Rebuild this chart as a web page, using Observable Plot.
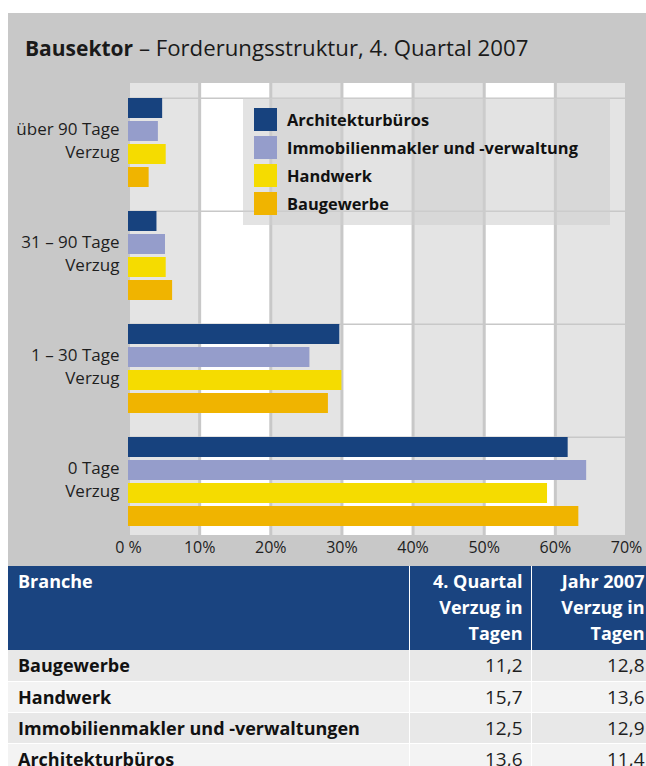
<!DOCTYPE html>
<html>
<head>
<meta charset="utf-8">
<script src="https://cdn.jsdelivr.net/npm/d3@7"></script>
<script src="https://cdn.jsdelivr.net/npm/@observablehq/plot@0.6"></script>
<style>
  html, body { margin: 0; padding: 0; background: #fff; overflow: hidden; width: 646px; height: 766px; }
  body { font-family: "Open Sans", "Noto Sans", sans-serif; color: #1e1e1e; }
  #panel { position: absolute; left: 8px; top: 13px; width: 650px; height: 760px; background: #c8c8c8; }
  #title { position: absolute; left: 17px; top: 19px; font-size: 22.2px; white-space: nowrap; color: #1a1a1a; }
  #title b { font-weight: 700; font-size: 21px; }
  #chart { position: absolute; left: 0; top: 55px; }
  #legend { position: absolute; left: 235px; top: 85px; width: 367px; height: 127px; background: rgba(208,208,208,0.59); }
  .sw { position: absolute; left: 11px; width: 23px; height: 23px; }
  .lt { position: absolute; left: 44px; font-weight: 700; font-size: 16.4px; line-height: 23px; white-space: nowrap; color: #111; }
  #tbl { position: absolute; left: 0; top: 553px; border-collapse: collapse; font-size: 18px; }
  #tbl th { background: #1a4480; color: #fff; font-weight: 700; vertical-align: top; line-height: 26px; padding: 2px 8px 3px 10px; height: 84px; box-sizing: border-box; border-right: 1px solid #fff; }
  #tbl td { height: 31px; box-sizing: border-box; padding: 0 8px 0 10px; border-bottom: 1px solid #fff; border-right: 1px solid #fff; line-height: 30px; }
  #tbl tr.odd td { background: #e8e8e8; }
  #tbl tr.even td { background: #f3f3f3; }
  #tbl td.name { font-weight: 700; color: #111; }
  #tbl td.num { text-align: right; font-size: 19px; }
</style>
</head>
<body>
<div id="panel">
  <div id="title"><b>Bausektor</b> – Forderungsstruktur, 4. Quartal 2007</div>
  <div id="chart"></div>
  <div id="legend"></div>
  <table id="tbl"></table>
</div>
<script>
// ---- data ----
const groups = ["über 90 Tage\nVerzug", "31 – 90 Tage\nVerzug", "1 – 30 Tage\nVerzug", "0 Tage\nVerzug"];
const series = ["Architekturbüros", "Immobilienmakler und -verwaltung", "Handwerk", "Baugewerbe"];
const seriesColors = ["#17427e", "#959dcb", "#f5dc00", "#f0b400"];
const architekturbueros = [4.8, 4.0, 29.7, 61.8];
const immobilien = [4.2, 5.2, 25.5, 64.4];
const handwerk = [5.3, 5.3, 30.0, 58.9];
const baugewerbe = [2.9, 6.2, 28.1, 63.3];
const xTicks = [0, 10, 20, 30, 40, 50, 60, 70];
const xTickLabels = ["0 %", "10%", "20%", "30%", "40%", "50%", "60%", "70%"];

const tableHeader = ["Branche", "4. Quartal\nVerzug in\nTagen", "Jahr 2007\nVerzug in\nTagen"];
const tableBranchen = ["Baugewerbe", "Handwerk", "Immobilienmakler und -verwaltungen", "Architekturbüros"];
const tableQuartal = ["11,2", "15,7", "12,5", "13,6"];
const tableJahr = ["12,8", "13,6", "12,9", "11,4"];

// ---- build tidy data ----
const seriesValues = [architekturbueros, immobilien, handwerk, baugewerbe];
const bars = [];
groups.forEach((g, gi) => series.forEach((s, si) => bars.push({group: g, series: s, value: seriesValues[si][gi]})));
const stripes = xTicks.slice(0, -1).map((t, i) => ({x1: t, x2: xTicks[i + 1], shade: i % 2 === 0}));

const chart = Plot.plot({
  width: 638,
  height: 498,
  marginLeft: 120,
  marginRight: 20,
  marginTop: 14,
  marginBottom: 30,
  style: {background: "transparent", fontFamily: "'Open Sans', sans-serif", fontSize: "16px", color: "#1e1e1e", overflow: "visible"},
  x: {domain: [0, 70]},
  y: {domain: series, paddingInner: 0.11, paddingOuter: 0.5, align: 0.646, axis: null},
  fy: {domain: groups, padding: 0, label: null},
  color: {domain: series, range: seriesColors},
  marks: [
    Plot.rectX(stripes, {x1: "x1", x2: "x2", fill: d => d.shade ? "#e4e4e4" : "#ffffff"}),
    Plot.ruleX(xTicks, {stroke: "#c8c8c8", strokeWidth: 3}),
    Plot.ruleY([series[0]], {y: d => d, stroke: "#c8c8c8", strokeWidth: 1.5, dy: -10.3}),
    Plot.barX(bars, {fy: "group", y: "series", x: "value", fill: "series"}),
    Plot.axisX({ticks: xTicks, tickFormat: (d) => xTickLabels[xTicks.indexOf(d)], tickSize: 0, tickPadding: 6, label: null, fontSize: 16}),
    Plot.axisFy({anchor: "left", tickSize: 0, tickPadding: 9, label: null, fontSize: 17, lineHeight: 1.35, dy: -1})
  ]
});
document.getElementById("chart").appendChild(chart);

// ---- legend ----
const legend = document.getElementById("legend");
series.forEach((s, i) => {
  const sw = document.createElement("div");
  sw.className = "sw";
  sw.style.top = (10 + i * 28) + "px";
  sw.style.background = seriesColors[i];
  legend.appendChild(sw);
  const t = document.createElement("div");
  t.className = "lt";
  t.style.top = (10 + i * 28) + "px";
  t.textContent = s;
  legend.appendChild(t);
});

// ---- table ----
const tbl = document.getElementById("tbl");
const colW = [401, 122, 122];
const hr = document.createElement("tr");
tableHeader.forEach((h, i) => {
  const th = document.createElement("th");
  th.style.width = colW[i] + "px";
  th.style.textAlign = i === 0 ? "left" : "right";
  th.innerHTML = h.split("\n").join("<br>");
  hr.appendChild(th);
});
tbl.appendChild(hr);
tableBranchen.forEach((b, i) => {
  const tr = document.createElement("tr");
  tr.className = i % 2 === 0 ? "odd" : "even";
  [b, tableQuartal[i], tableJahr[i]].forEach((v, j) => {
    const td = document.createElement("td");
    td.textContent = v;
    td.className = j === 0 ? "name" : "num";
    tr.appendChild(td);
  });
  tbl.appendChild(tr);
});
</script>
</body>
</html>
